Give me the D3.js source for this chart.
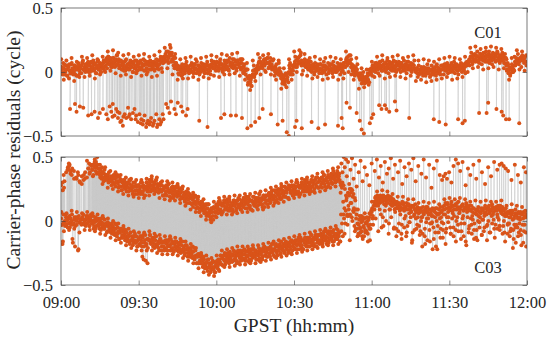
<!DOCTYPE html>
<html>
<head>
<meta charset="utf-8">
<script src="https://cdn.jsdelivr.net/npm/d3@7"></script>
<style>
  body { margin: 0; background: #fff; }
  svg text { font-family: "Liberation Serif", "Times New Roman", serif; fill: #262626; }
</style>
</head>
<body>
<svg id="chart" width="550" height="340"></svg>
<script>
// x = minutes after 09:00 GPST, residuals stored in 0.01 cycle
const timeTicks = [0, 30, 60, 90, 120, 150, 180];
const timeLabels = ["09:00", "09:30", "10:00", "10:30", "11:00", "11:30", "12:00"];
const resTicks = [-0.5, 0, 0.5];
const resLabels = ["\u22120.5", "0", "0.5"];

// C01 main branch, one sample every 20 s, and a second set 10 s later
const c01Band = [
  1,4,-2,3,6,0,2,-3,5,4,1,-1,6,2,-2,0,5,3,-3,2,7,4,-1,3,5,8,2,1,6,4,
  3,7,0,5,2,8,1,4,6,7,3,-1,4,9,2,6,0,5,3,7,4,9,5,11,7,12,6,10,4,8,
  6,11,8,9,5,13,7,10,4,5,8,2,6,1,4,9,3,6,2,7,5,4,8,0,6,3,9,5,1,7,
  4,8,3,7,2,6,5,9,1,3,6,8,6,2,5,8,4,7,2,6,5,7,3,9,6,10,8,9,7,12,
  10,14,9,12,16,11,15,19,13,10,8,12,5,7,3,2,-1,4,3,0,1,-2,4,2,1,5,3,4,0,2,
  2,5,0,4,1,6,3,-1,2,5,2,4,0,3,6,4,1,3,2,6,-1,5,3,1,6,4,8,3,7,5,
  7,4,2,5,8,3,6,1,4,3,7,5,4,9,2,8,5,7,6,10,4,5,8,3,9,6,7,4,7,10,
  3,0,4,1,-2,2,-4,-8,-5,-9,-6,-11,-2,1,-4,2,-1,3,5,7,3,8,4,6,6,9,5,10,7,11,
  7,4,8,5,6,3,2,4,0,3,-1,1,-2,1,-3,-5,-2,-7,-4,-8,-6,-3,-6,-1,0,3,-2,2,5,1,
  5,8,4,9,6,11,12,8,15,9,6,7,5,8,4,7,3,6,4,1,5,2,6,3,0,4,2,5,3,1,
  3,6,2,1,4,0,5,2,4,3,-1,2,6,3,1,2,5,4,0,3,1,4,2,6,3,0,5,5,7,4,
  8,11,6,9,13,7,4,6,1,2,-1,3,0,2,-2,-3,-5,-1,-6,-4,-8,-5,-9,-4,-7,-3,-6,-2,1,-1,
  2,5,1,4,7,3,6,2,5,3,8,4,5,1,6,4,7,2,9,5,3,6,2,7,3,5,1,4,8,6,
  5,2,6,3,7,4,1,5,3,6,4,8,2,5,3,4,1,6,3,5,2,0,3,-1,2,-2,1,-1,2,0,
  1,-2,3,0,2,-1,3,1,-3,2,-1,1,-2,2,0,1,4,-1,3,0,2,2,5,3,4,1,6,3,5,2,
  4,1,3,2,5,0,3,6,2,5,1,4,2,4,3,6,3,1,4,7,5,8,6,10,9,12,8,11,8,13,
  10,13,9,12,8,11,14,10,12,9,12,15,11,13,8,12,16,10,13,9,11,10,14,12,12,9,15,11,13,10,
  12,9,13,10,7,11,5,2,6,1,3,-1,2,4,0,5,8,6,9,7,10,8,11,9,12,9,10,11,8,13
];
const c01Band2 = [
  -1,3,7,0,-2,5,2,-3,4,6,1,-1,7,3,0,5,-2,2,4,-3,6,1,3,-1,7,9,2,4,0,6,
  2,8,5,0,7,4,3,9,1,6,-1,5,8,2,4,7,0,6,3,9,1,8,10,3,12,9,6,11,7,4,
  11,7,4,10,13,6,9,3,8,9,2,7,4,8,1,10,5,3,6,2,9,4,7,0,8,5,3,9,1,6,
  7,2,9,4,5,10,1,6,8,3,0,7,5,9,2,6,4,8,1,7,10,3,5,2,9,12,3,10,7,11,
  8,12,16,9,7,14,13,8,15,10,5,3,11,7,4,5,-2,2,4,-3,6,1,3,-1,6,8,1,3,-1,5,
  1,7,4,-1,6,3,2,8,0,5,-2,4,7,1,3,6,-1,5,2,8,0,3,5,-2,9,6,3,8,4,1,
  8,4,1,7,10,3,6,0,5,9,2,7,4,8,1,11,6,4,7,3,10,5,8,1,9,6,4,10,2,7,
  4,-1,6,1,2,7,-10,-5,-3,-8,-11,-4,1,5,-2,2,0,4,2,8,11,4,6,3,7,10,1,10,7,11,
  3,7,11,4,2,9,2,-3,4,6,1,-1,7,3,0,-2,-9,-5,-3,-10,-1,-6,-4,-8,5,7,0,2,-2,4,
  6,12,9,4,11,8,7,13,5,8,1,7,10,4,6,9,2,8,2,8,0,3,5,-2,7,4,1,6,2,-1,
  6,2,-1,5,8,1,4,-2,3,7,0,5,2,6,-1,8,3,1,4,0,7,2,5,-2,6,3,1,7,-1,4,
  10,5,12,7,8,13,-2,3,5,0,-3,4,2,6,-1,-4,-6,-2,-9,-3,0,-7,-5,-8,-4,-1,-10,2,-1,3,
  -3,1,5,2,0,7,4,-1,6,8,3,1,9,5,2,7,0,4,6,-1,8,3,5,1,7,9,2,4,0,6,
  2,8,5,0,7,4,3,9,1,6,-1,5,8,2,4,7,0,6,3,9,1,1,3,-4,5,2,-1,4,0,-3,
  4,0,-3,3,6,-1,2,-4,1,5,-2,3,0,4,-3,6,1,-1,2,-2,5,2,5,-2,6,3,1,7,-1,4,
  5,0,7,2,3,8,-1,4,6,1,-2,5,3,7,0,4,2,6,-1,5,8,6,8,5,12,15,6,13,10,14,
  8,12,16,9,7,14,11,6,13,15,10,8,16,12,9,14,7,11,13,6,15,10,12,8,14,16,9,11,7,13,
  9,15,12,7,14,11,1,7,-1,4,-3,3,6,0,2,12,5,11,8,14,6,9,11,4,13,10,7,12,8,5
];
// C01 rough band edge, one sample per minute
const c01Edge = [
  10,-6,9,-5,11,-7,8,-4, 12,-4,11,-3,13,-5,10,-2,12, 0,16,1,17,-1,15,
  -3,13,-2,14,-4,12,-1,13,-3,14,-2,12,-4,13,-3, 16,0, 19,3, 21, -2,14, -6,10,-5,
  11,-5,12,-4,10,-6,11,-4,12,-5, 13,-3,12,-4,14,-2,13, -2,14,-1,15,-3, 10,-6, 2,-14, 9,-7,
  14,-2,13, 0, 14,-2, 10,-6,9, -13,3,-12, 10,-6, 16,0,17, -2,14,-3,
  11,-5,12,-4,10,-6,11,-5,12,-4,11,-6,10,-5, 16,0, 10,-6,11, -13,3,-12,2, -8,8,
  -4,12,-3,13,-5,11,-4,12,-3,13,-4,11,-5,12,-3,13, -7,9,-6,10,-8,9,-7,8,-6,10,
  -5,11,-4,12,-6,11,-5,10,-4,12, 0, 19,3,20,4,18,2,19,3,20,4,19,2,18,3, 10,-6,11, 1,17,2,16,1
];

// C01 outliers [minute, 0.01 cycle]
const c01Out = [
  [3.5,-29],[5.4,-25],[6.0,-31],[7.3,-27],[8.6,-28],[10.5,-34],[11.8,-33],[13.0,-31],
  [14.3,-36],[15.0,-32],[16.2,-29],[17.5,-33],[18.1,-37],[18.8,-27],[19.4,-31],[19.9,-35],
  [20.0,-25],[20.7,-34],[21.3,-29],[21.8,-31],[22.0,-36],[22.6,-32],[22.9,-39],[23.3,-38],
  [23.9,-42],[24.1,-35],[24.6,-33],[25.2,-36],[25.9,-28],[26.2,-35],[26.5,-33],[27.1,-37],
  [27.8,-32],[28.4,-29],[28.8,-37],[29.0,-34],[29.7,-39],[30.3,-33],[30.8,-40],[31.0,-37],
  [31.6,-41],[31.9,-38],[32.3,-34],[32.9,-43],[33.2,-40],[33.6,-38],[34.2,-41],[34.5,-39],
  [34.8,-36],[35.5,-42],[35.8,-40],[36.1,-38],[36.8,-33],[37.1,-43],[37.4,-41],[38.0,-37],
  [38.3,-41],[38.7,-39],[39.3,-33],[39.6,-37],[40.6,-25],[41.2,-28],[41.9,-32],[42.5,-23],
  [43.8,-29],[44.4,-33],[45.1,-24],[46.4,-27],[47.0,-31],[48.3,-34],[48.9,-29],[53.4,-38],
  [56.6,-43],[61.8,-36],[63.1,-33],[65.6,-34],[67.6,-34],[69.9,-36],[72.0,-44],[73.4,-42],
  [75.0,-39],[76.6,-36],[77.9,-29],[81.1,-33],[83.7,-41],[85.6,-38],[87.2,-47],[88.0,-50],
  [90.4,-43],[91.0,-38],[93.0,-44],[96.8,-39],[99.4,-44],[102.0,-41],[107.0,-42],[108.4,-36],
  [108.8,-44],[110.3,-24],[111.6,-28],[114.2,-32],[115.4,-38],[116.1,-45],[117.0,-48],[119.3,-40],
  [120.0,-36],[120.6,-33],[122.9,-26],[123.8,-29],[125.1,-26],[125.7,-29],[126.8,-31],[129.0,-23],
  [129.6,-30],[134.5,-36],[144.0,-37],[146.1,-39],[148.6,-41],[153.4,-37],[155.1,-40],[156.0,-38],
  [161.5,-32],[164.4,-32],[165.0,-24],[168.2,-29],[170.2,-31],[170.8,-34],[171.9,-37],[173.1,-37],
  [177.0,-40]
];

// C03 before 10:48: upper and lower branches, 20 s steps, interleaved sets (null = no sample)
const c03Upper = [
  28,null,24,null,31,null,38,null,42,40,44,37,null,41,null,39,null,null,33,null,36,null,30,null,35,null,32,null,38,null,
  34,null,41,37,44,null,40,35,43,46,39,42,50,41,38,36,40,33,38,34,37,32,36,35,34,30,33,31,35,32,
  30,36,33,27,34,31,29,35,27,31,24,30,32,26,28,30,23,29,26,32,24,26,28,21,30,27,24,28,24,21,
  28,24,21,27,30,23,26,20,25,30,23,28,26,30,23,33,28,26,29,25,32,26,29,22,28,25,23,28,20,25,
  26,21,28,23,24,29,19,24,26,21,18,25,23,27,20,23,21,25,17,23,26,18,20,17,20,23,14,20,17,21,
  14,20,17,11,18,15,13,19,11,14,7,13,15,9,11,13,6,12,7,13,5,6,8,1,10,7,4,11,7,4,
  13,9,6,13,16,9,13,7,12,16,9,14,11,15,8,17,12,10,13,9,16,12,15,8,16,13,11,17,9,14,
  16,11,18,13,14,19,10,15,17,12,9,16,15,19,12,16,14,18,12,18,21,14,16,13,17,20,11,19,16,20,
  16,22,19,15,22,19,18,24,16,22,15,21,25,19,21,25,18,24,21,27,19,23,25,18,28,25,22,27,23,20,
  28,24,21,27,30,23,27,21,26,30,23,28,26,30,23,32,27,25,29,25,32,27,30,23,32,29,27,34,26,31,
  32,27,34,30,31,36,27,32,34,30,27,34,33,37,30,35,33,37,30,36,39,33,35,32
];
const c03Upper2 = [
  null,30,null,26,null,null,null,40,null,43,null,39,36,null,null,null,null,34,null,38,null,31,null,null,null,null,36,33,null,null,
  null,41,45,38,null,43,40,36,44,42,46,37,44,38,41,34,36,42,38,31,40,34,36,32,36,38,31,32,28,34,
  34,29,36,30,31,36,26,31,33,27,24,31,28,32,25,28,26,30,23,29,32,24,26,23,27,30,21,27,24,28,
  22,26,30,23,21,28,25,20,27,30,25,23,32,28,25,31,24,28,30,23,32,26,28,24,28,30,23,24,20,26,
  27,23,20,26,29,22,24,18,23,27,20,25,22,26,19,27,22,20,22,18,25,19,22,15,22,19,17,22,14,19,
  18,13,20,14,15,20,10,15,17,10,7,14,11,15,8,11,9,13,4,10,13,4,6,3,7,10,1,10,7,11,
  7,11,15,9,7,14,12,7,14,16,11,9,17,13,10,15,8,12,14,7,16,12,14,10,16,18,11,13,9,15,
  12,18,15,10,17,14,13,19,11,16,9,15,19,13,15,18,11,17,15,21,13,16,18,11,20,17,14,20,16,13,
  21,17,14,21,24,17,20,14,19,24,17,22,20,24,17,27,22,20,23,19,26,22,25,18,27,24,22,28,20,25,
  22,26,30,23,21,28,26,21,28,30,25,23,32,28,25,30,23,27,30,23,32,27,29,25,32,34,27,30,26,32,
  33,29,26,33,36,29,32,26,31,36,29,34,32,36,29,39,34,32,35,31,38,34,37,30
];
const c03Lower = [
  2,-3,-16,-1,0,5,-3,1,3,-2,-5,2,0,-14,-3,1,-20,3,-3,3,-22,-1,1,-2,2,-2,1,-3,1,4,
  -2,4,1,-4,3,0,-2,4,-4,1,-6,0,2,-4,-2,0,-7,-1,-4,2,-6,-4,-2,-9,-1,-4,-7,-3,-7,-10,
  -4,-8,-11,-6,-3,-10,-8,-14,-9,-6,-13,-8,-12,-8,-15,-7,-12,-14,-12,-16,-9,-15,-12,-19,-12,-15,-17,-12,-20,-15,
  -14,-19,-12,-17,-28,-11,-20,-15,-31,-18,-33,-14,-15,-11,-18,-15,-17,-13,-21,-15,-12,-20,-18,-21,-17,-14,-23,-17,-20,-16,
  -21,-15,-18,-23,-16,-19,-20,-14,-22,-17,-24,-18,-16,-22,-20,-17,-24,-18,-22,-16,-24,-22,-20,-27,-19,-22,-25,-21,-25,-28,
  -22,-26,-29,-24,-21,-28,-27,-33,-28,-26,-33,-28,-33,-29,-36,-28,-33,-35,-33,-37,-30,-36,-33,-40,-33,-36,-38,-32,-40,-35,
  -32,-37,-30,-33,-32,-27,-34,-29,-27,-31,-34,-27,-29,-25,-32,-28,-30,-26,-32,-26,-23,-30,-28,-31,-26,-23,-32,-25,-28,-24,
  -29,-23,-26,-31,-24,-27,-28,-22,-30,-24,-31,-25,-22,-28,-26,-23,-30,-24,-27,-21,-29,-25,-23,-30,-21,-24,-27,-21,-25,-28,
  -21,-25,-28,-21,-18,-25,-22,-28,-23,-18,-25,-20,-23,-19,-26,-16,-21,-23,-20,-24,-17,-21,-18,-25,-17,-20,-22,-15,-23,-18,
  -17,-22,-15,-19,-18,-13,-22,-17,-15,-19,-22,-15,-17,-13,-20,-15,-17,-13,-20,-14,-11,-17,-15,-18,-14,-11,-20,-12,-15,-11,
  -16,-10,-13,-17,-10,-13,-14,-8,-16,-10,-17,-11,-8,-14,-12,-9,-16,-10,-12,-6,-14,-11,-9,-16
];
const c03Lower2 = [
  -3,-18,5,-2,-4,3,0,-5,2,4,-1,-3,5,-17,-2,3,-4,0,2,-23,4,-1,1,-3,3,5,-2,0,-4,2,
  3,-1,-4,2,5,-2,0,-6,-1,3,-4,1,-3,1,-6,2,-3,-5,-2,-6,1,-4,-2,-8,-2,-5,-7,-9,-2,-5,
  -10,-6,-2,-10,-12,-5,-9,-14,-7,-6,-11,-13,-6,-10,-13,-9,-16,-12,-11,-18,-9,-15,-13,-17,-12,-10,-17,-16,-20,-14,
  -18,-12,-15,-20,-13,-30,-17,-11,-19,-14,-21,-15,-11,-17,-15,-13,-20,-14,-18,-12,-20,-18,-16,-23,-14,-17,-20,-16,-20,-23,
  -17,-22,-15,-20,-19,-14,-23,-18,-16,-21,-24,-17,-20,-16,-23,-19,-21,-17,-25,-19,-16,-24,-22,-25,-22,-19,-28,-22,-25,-21,
  -28,-24,-20,-28,-30,-23,-28,-33,-26,-26,-31,-33,-27,-31,-34,-30,-37,-33,-32,-39,-30,-36,-34,-38,-33,-31,-38,-36,-40,-34,
  -31,-35,-38,-30,-27,-34,-29,-35,-30,-25,-32,-27,-30,-26,-33,-24,-29,-31,-27,-31,-24,-29,-26,-33,-24,-27,-29,-23,-31,-26,
  -30,-26,-22,-29,-31,-24,-27,-32,-25,-22,-27,-29,-21,-25,-28,-23,-30,-26,-24,-31,-22,-26,-24,-28,-22,-20,-27,-24,-28,-22,
  -22,-27,-20,-24,-23,-18,-27,-22,-20,-24,-27,-20,-22,-18,-25,-20,-22,-18,-25,-19,-16,-22,-20,-23,-19,-16,-25,-17,-20,-16,
  -21,-15,-18,-22,-15,-18,-19,-13,-21,-15,-22,-16,-13,-19,-17,-13,-20,-14,-17,-11,-19,-15,-13,-20,-11,-14,-17,-11,-15,-18,
  -11,-15,-18,-11,-8,-15,-12,-18,-13,-8,-15,-10,-13,-9,-16,-7,-12,-14,-10,-14,-7,-12,-9,-16
];
// C03 rough band edges before 10:48, one sample per minute
const c03UpperEdge = [
  null,36,null,45,null,33,null,null,29,null,47,null,44,48,null,
  44,29,42,26,39, 25,38,23,36,21,34,20,33,19,32, 18,32,18,33,20,35,21,34,18,31,
  17,31,16,30,16,29,14,27,12,25, 9,22,7,19,4,17,1,13,-1,15, 3,18,5,19,5,19,5,20,6,20,
  7,21,7,21,8,22,9,23,9,24, 11,26,12,27,14,29,15,30,17,31, 18,32,19,33,20,34,21,35,22,37,
  23,38,24,39,26,41,27,42
];
const c03LowerEdge = [
  7,-8,6,-7,8,-6,7,-9,6,-7, 7,-7,6,-8,5,-10,4,-11,2,-13, 0,-15,-2,-17,-4,-19,-6,-21,-8,-23,
  -9,-23,-9,-23,-8,-23,-10,-25,-11,-26, -12,-26,-12,-26,-13,-27,-14,-29,-16,-31,
  -18,-33,-21,-37,-25,-40,-27,-42,-29,-43, -27,-39,-23,-36,-22,-36,-21,-35,-20,-34,
  -20,-34,-20,-33,-19,-33,-19,-32,-18,-31, -17,-30,-16,-29,-15,-28,-14,-27,-13,-26,
  -12,-25,-11,-24,-10,-23,-9,-22,-8,-21, -7,-20,-6,-19,-5,-19,-4,-18
];

// C03 after 10:48, 20 s steps, two sets 10 s apart, plus per-minute edge and low-scatter sets
const c03After = [
  22,-8,30,15,2,25,8,18,-3,12,20,5,22,3,19,21,-4,16,2,-6,9,-3,4,-9,-1,-12,3,-5,6,-2,
  -8,0,-4,3,-15,5,7,2,9,15,18,12,17,14,19,16,20,15,18,3,17,19,16,14,17,20,-2,16,13,18,
  14,17,-5,13,10,15,12,-8,11,13,9,-3,10,14,2,11,-12,12,9,13,-1,10,7,-15,12,4,9,8,-6,11,
  9,-4,7,10,3,-10,6,8,-18,11,2,7,5,-7,9,8,-1,4,-14,7,10,6,-22,5,9,2,-6,7,11,-2,
  12,5,-9,10,14,3,8,-5,13,11,6,-12,9,13,0,14,-3,10,7,11,-8,12,4,9,10,-16,13,8,11,-4,
  9,2,-10,7,10,-2,6,-13,8,9,4,-5,7,10,1,8,-8,6,10,5,-3,9,12,7,8,4,11,10,-6,9,
  11,8,3,9,-4,12,7,10,5,8,-9,6,4,7,-2,6,-12,3,5,8,-7,2,6,-17,4,-5,7,6,1,-11,
  5,-3,7,4,8,-20
];
const c03After2 = [
  5,26,-12,28,10,-2,16,4,22,9,25,14,14,24,8,10,18,-6,5,-2,-10,1,-6,2,-8,0,-4,2,-7,-1,
  -2,-10,1,6,-3,8,10,4,12,13,19,16,20,12,17,14,18,-5,15,20,13,17,12,19,14,18,9,19,15,12,
  12,16,9,15,-6,13,10,14,8,11,-10,15,13,8,11,9,14,-4,12,6,10,8,12,-9,11,5,13,7,10,3,
  6,10,-8,8,3,11,5,-12,9,7,11,2,9,-16,6,4,10,-5,8,3,-20,10,5,-9,6,11,3,8,-13,5,
  9,14,-6,13,7,11,10,-10,15,8,12,4,12,-7,9,11,15,6,9,-14,12,13,8,-2,11,14,7,9,-9,12,
  8,12,4,10,-7,6,9,5,-15,11,7,3,6,-11,9,10,4,12,7,-4,9,11,6,-9,9,13,5,7,10,-3,
  9,5,12,10,-7,8,6,11,-4,9,4,10,5,-10,7,3,8,-6,7,1,-14,4,9,-3,6,2,-9,3,7,-19,
  6,2,-8,7,3,5
];
const c03AfterEdge = [
  28,5,20,4,25,7,9,-11,4,-12,3,-6, 15,9,23,9,24,8,23,9, 21,7,19,5,19,4,17,3,17,2,
  14,0,15,-1,14,-2,15,0,13,-1, 17,3,18,2,17,3,18,2,17,3, 15,1,16,0,15,1,16,0,15,1,
  15,1,16,0, 12,-2,13,-3,12,-2,11,-3
];
const c03AfterLow = [
  -2,-10,5,-15,0,-8,-12,-5,-14,-9,-16,-6, -3,2,-8,5,-4,0,-10,3,-6,-12,
  -2,-14,-5,-9,-1,-17,-7,-3,-11,-20, -6,-15,-2,-22,-9,-4,-13,-7,-18,-1,
  -10,-5,-16,-8,-2,-12,-19,-6,-3,-14, -7,-1,-11,-5,-15,-9,-2,-13,-6,-4,
  -10,-16,-3,-8,-21,-5,-12,-7,-17,-9
];
// C03 high outliers after 10:48 [minute, 0.01 cycle]
const c03AfterOut = [
  [108.3,45],[108.7,38],[109.2,50],[109.6,42],[110.1,48],[110.4,35],[110.9,46],[111.3,29],
  [111.8,40],[112.4,49],[113.0,33],[113.6,44],[114.2,27],[115.0,38],[115.7,47],[116.5,31],
  [117.3,42],[118.2,36],[119.1,28],[120.0,45],[121.2,39],[122.0,48],[122.8,34],[123.5,43],
  [124.3,30],[125.1,46],[125.9,37],[126.6,41],[127.4,49],[128.3,33],[129.0,44],[130.2,38],
  [131.0,47],[131.8,29],[132.7,42],[133.5,35],[134.4,45],[135.3,40],[136.1,49],[137.0,31],
  [138.0,43],[139.2,37],[140.1,48],[141.0,34],[142.2,44],[143.1,26],[144.0,41],[145.2,47],
  [146.3,36],[147.2,32],[147.8,35],[148.5,37],[149.1,33],[149.9,38],[150.8,30],[151.6,43],
  [152.5,48],[153.4,45],[154.2,39],[155.1,46],[156.3,28],[157.2,41],[158.1,36],[159.3,44],
  [160.4,33],[161.5,47],[162.6,38],[163.8,29],[165.0,42],[166.1,35],[167.3,46],[168.5,40],
  [169.4,44],[170.2,45],[171.0,43],[171.8,41],[172.7,39],[174.0,32],[175.3,44],[176.5,36],
  [177.6,30],[178.8,42],[179.6,38]
];

const svg = d3.select("#chart");
const x = d3.scaleLinear().domain([0, 180]).range([61, 527]);
const yTop = d3.scaleLinear().domain([-0.5, 0.5]).range([136, 8]);
const yBot = d3.scaleLinear().domain([-0.5, 0.5]).range([285, 157]);

// put a sampled array on the time axis (start minute, step in minutes)
function sampled(arr, start, step) {
  const out = [];
  arr.forEach((v, i) => { if (v !== null) out.push({ t: start + i * step, v: v / 100 }); });
  return out;
}
const pairs = arr => arr.map(d => ({ t: d[0], v: d[1] / 100 }));
const s20 = 1 / 3;

// merge in time order so the gray line jumps between branches
const c01Pts = sampled(c01Band, 0, s20)
  .concat(sampled(c01Band2, 1 / 6, s20), sampled(c01Edge, 1 / 12, 1), pairs(c01Out))
  .sort((a, b) => a.t - b.t);

const c03Pts = sampled(c03Upper, 0, s20)
  .concat(sampled(c03Lower, 1 / 12, s20), sampled(c03Upper2, 1 / 6, s20), sampled(c03Lower2, 1 / 4, s20),
          sampled(c03UpperEdge, 1 / 24, 1), sampled(c03LowerEdge, 1 / 8, 1),
          sampled(c03After, 108, s20), sampled(c03After2, 108 + 1 / 6, s20),
          sampled(c03AfterEdge, 108 + 1 / 12, 1), sampled(c03AfterLow, 108.55, 1),
          pairs(c03AfterOut))
  .sort((a, b) => a.t - b.t);

function drawPanel(pts, y, id, name, nameY, showTime) {
  const [y0, y1] = y.range();
  const g = svg.append("g");

  svg.append("clipPath").attr("id", id)
    .append("rect")
    .attr("x", x(0)).attr("y", y1)
    .attr("width", x(180) - x(0)).attr("height", y0 - y1);

  const plot = g.append("g").attr("clip-path", "url(#" + id + ")");

  const line = d3.line().x(d => x(d.t)).y(d => y(d.v));
  plot.append("path")
    .datum(pts)
    .attr("d", line)
    .attr("fill", "none")
    .attr("stroke", "#c8c8c8")
    .attr("stroke-width", 0.6);

  plot.selectAll("circle")
    .data(pts)
    .enter().append("circle")
    .attr("cx", d => x(d.t))
    .attr("cy", d => y(d.v))
    .attr("r", 2)
    .attr("fill", "#d95319");

  // box axes, ticks pointing inwards
  const bottom = d3.axisBottom(x).tickValues(timeTicks).tickSize(-4.5).tickPadding(11)
    .tickFormat((d, i) => showTime ? timeLabels[i] : "");
  const top = d3.axisTop(x).tickValues(timeTicks).tickSize(-4.5).tickFormat("");
  const left = d3.axisLeft(y).tickValues(resTicks).tickSize(-4.5).tickPadding(8)
    .tickFormat((d, i) => resLabels[i]);
  const right = d3.axisRight(y).tickValues(resTicks).tickSize(-4.5).tickFormat("");

  g.append("g").attr("transform", "translate(0," + y0 + ")").call(bottom);
  g.append("g").attr("transform", "translate(0," + y1 + ")").call(top);
  g.append("g").attr("transform", "translate(" + x(0) + ",0)").call(left);
  g.append("g").attr("transform", "translate(" + x(180) + ",0)").call(right);

  g.selectAll(".domain").remove();
  g.selectAll(".tick line").attr("stroke", "#404040").attr("stroke-width", 0.6);
  g.selectAll(".tick text")
    .attr("fill", "#262626")
    .style("font-family", "'Liberation Serif', 'Times New Roman', serif")
    .style("font-size", "16.5px");

  g.append("rect")
    .attr("x", x(0)).attr("y", y1)
    .attr("width", x(180) - x(0)).attr("height", y0 - y1)
    .attr("fill", "none")
    .attr("stroke", "#404040")
    .attr("stroke-width", 0.7);

  g.append("text")
    .attr("x", 488).attr("y", nameY)
    .attr("text-anchor", "middle")
    .style("font-size", "16.5px")
    .text(name);
}

drawPanel(c01Pts, yTop, "clipTop", "C01", 38, false);
drawPanel(c03Pts, yBot, "clipBot", "C03", 273, true);

svg.append("text")
  .attr("x", 294).attr("y", 332)
  .attr("text-anchor", "middle")
  .style("font-size", "19.5px")
  .text("GPST (hh:mm)");

svg.append("text")
  .attr("transform", "translate(20,150) rotate(-90)")
  .attr("text-anchor", "middle")
  .style("font-size", "19.5px")
  .text("Carrier-phase residuals (cycle)");
</script>
</body>
</html>
